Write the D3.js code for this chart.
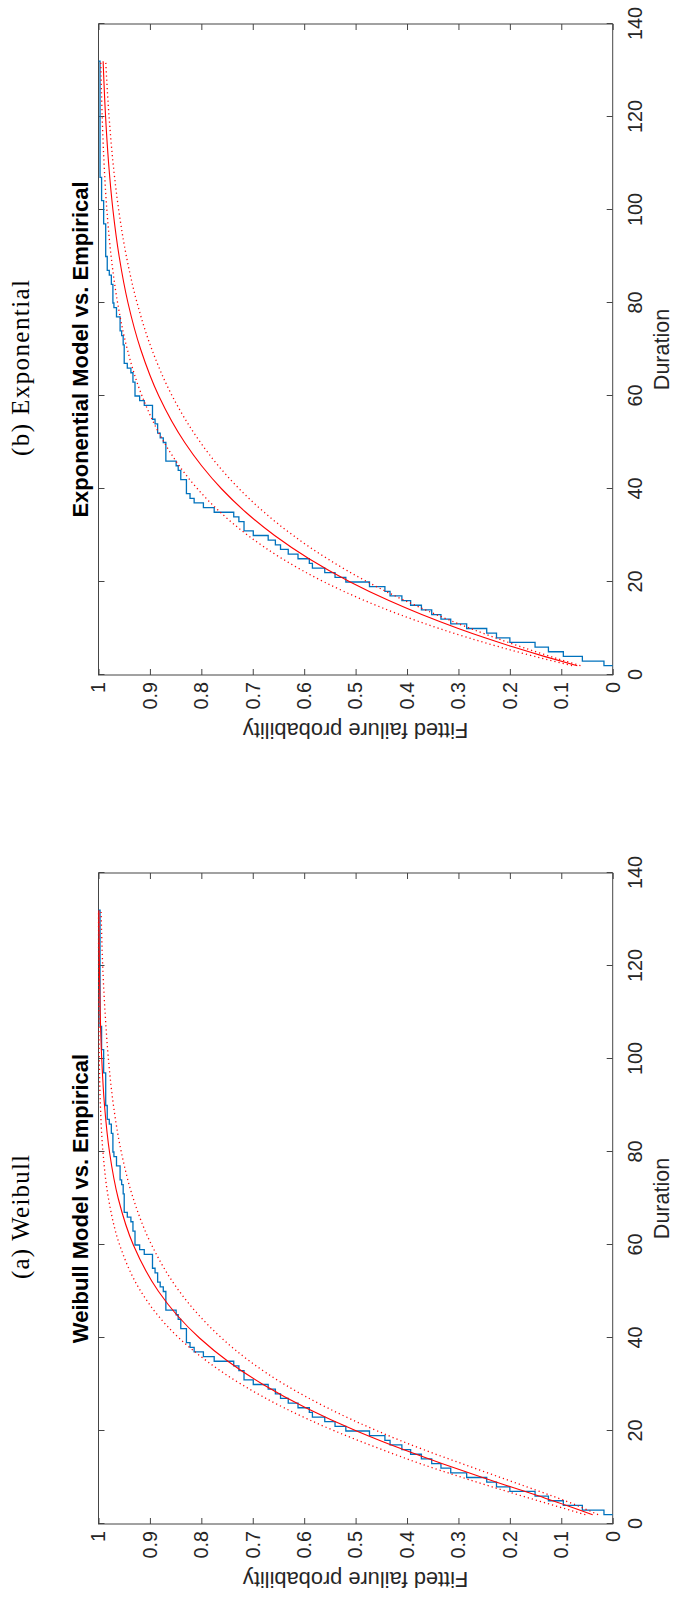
<!DOCTYPE html>
<html>
<head>
<meta charset="utf-8">
<script src="https://cdn.jsdelivr.net/npm/d3@7"></script>
<style>
html, body { margin: 0; padding: 0; background: #ffffff; }
svg { display: block; }
</style>
</head>
<body>
<svg id="chart" width="674" height="1597"></svg>
<script>
// ---------------- data ----------------
const durationTicks = [0, 20, 40, 60, 80, 100, 120, 140];
const durationTickLabels = ["0", "20", "40", "60", "80", "100", "120", "140"];
const probTicks = [0, 0.1, 0.2, 0.3, 0.4, 0.5, 0.6, 0.7, 0.8, 0.9, 1];
const probTickLabels = ["0", "0.1", "0.2", "0.3", "0.4", "0.5", "0.6", "0.7", "0.8", "0.9", "1"];

// empirical CDF (step function): duration where the step starts, probability after the step
const ecdfDuration = [2, 2, 3, 4, 5, 6, 7, 8, 9, 10, 11, 12, 13, 14, 15, 16, 17, 18, 19, 20,
  21, 22, 23, 24, 25, 26, 27, 28, 29, 30, 31, 33, 34, 35, 36, 37, 38, 39, 42, 44, 45, 46,
  50, 51, 52, 54, 55, 58, 59, 60, 63, 65, 66, 67, 71, 73, 74, 77, 79, 80, 84, 86, 87, 90,
  97, 102, 107, 132];
const ecdfProb = [0, 0.017, 0.059, 0.096, 0.125, 0.151, 0.200, 0.226, 0.245, 0.284, 0.315,
  0.334, 0.352, 0.372, 0.393, 0.410, 0.433, 0.443, 0.473, 0.519, 0.540, 0.560, 0.584, 0.590,
  0.612, 0.631, 0.646, 0.656, 0.670, 0.699, 0.717, 0.727, 0.737, 0.775, 0.796, 0.814, 0.822,
  0.829, 0.840, 0.845, 0.849, 0.869, 0.874, 0.880, 0.885, 0.890, 0.895, 0.911, 0.920, 0.929,
  0.933, 0.937, 0.944, 0.950, 0.952, 0.955, 0.958, 0.965, 0.970, 0.972, 0.975, 0.979, 0.983,
  0.986, 0.990, 0.994, 0.997, 1.000];

// fitted curves, read at these durations
const fitDuration = [2, 4, 6, 8, 10, 13, 16, 20, 25, 30, 35, 40, 45, 50, 60, 70, 80, 90, 100, 110, 120, 132];

const expFit   = [0.0689, 0.1331, 0.1929, 0.2485, 0.3003, 0.3714, 0.4353, 0.5105, 0.5906, 0.6575, 0.7135,
  0.7604, 0.7995, 0.8323, 0.8827, 0.9179, 0.9426, 0.9598, 0.9719, 0.9803, 0.9862, 0.9910];
const expUpper = [0.0790, 0.1518, 0.2188, 0.2805, 0.3373, 0.4143, 0.4823, 0.5609, 0.6426, 0.7090, 0.7631,
  0.8072, 0.8431, 0.8722, 0.9153, 0.9439, 0.9628, 0.9754, 0.9837, 0.9892, 0.9928, 0.9956];
const expLower = [0.0627, 0.1214, 0.1765, 0.2281, 0.2765, 0.3434, 0.4041, 0.4765, 0.5547, 0.6213, 0.6778,
  0.7260, 0.7669, 0.8017, 0.8566, 0.8962, 0.9249, 0.9457, 0.9607, 0.9716, 0.9794, 0.9860];

const wblFit   = [0.0389, 0.0894, 0.1435, 0.1985, 0.2531, 0.3324, 0.4071, 0.4981, 0.5970, 0.6800, 0.7483,
  0.8036, 0.8480, 0.8832, 0.9322, 0.9616, 0.9786, 0.9883, 0.9937, 0.9967, 0.9983, 0.9992];
const wblUpper = [0.0532, 0.1144, 0.1755, 0.2348, 0.2924, 0.3747, 0.4485, 0.5403, 0.6393, 0.7215, 0.7889,
  0.8434, 0.8855, 0.9175, 0.9588, 0.9806, 0.9913, 0.9963, 0.9985, 0.9994, 0.9998, 0.9999];
const wblLower = [0.0284, 0.0697, 0.1169, 0.1672, 0.2182, 0.2937, 0.3681, 0.4574, 0.5552, 0.6379, 0.7058,
  0.7606, 0.8056, 0.8425, 0.8967, 0.9324, 0.9557, 0.9709, 0.9807, 0.9872, 0.9918, 0.9950];

const panelCaptions = ["(b) Exponential", "(a) Weibull"];
const panelTitles = ["Exponential Model vs. Empirical", "Weibull Model vs. Empirical"];
const xLabel = "Duration";
const yLabel = "Fitted failure probability";

// ---------------- layout ----------------
const panels = [
  { caption: panelCaptions[0], title: panelTitles[0], fit: expFit, upper: expUpper, lower: expLower,
    left: 98.5, bottom: 675, captionLen: 176 },
  { caption: panelCaptions[1], title: panelTitles[1], fit: wblFit, upper: wblUpper, lower: wblLower,
    left: 98.5, bottom: 1524, captionLen: 124 }
];

const W = 651;     // length of the Duration axis (page vertical)
const H = 514.2;   // length of the probability axis (page horizontal)
const SANS = "'Liberation Sans', Arial, Helvetica, sans-serif";
const SERIF = "'Liberation Serif', 'Times New Roman', serif";
const AXIS_COLOR = "#454545";
const TEXT_COLOR = "#262626";
const BLUE = "#0072BD";
const RED = "#FF0000";

const svg = d3.select("#chart");
svg.append("rect").attr("width", 674).attr("height", 1597).attr("fill", "#ffffff");

panels.forEach(pn => {
  // The whole MATLAB figure is rotated 90 degrees counter-clockwise on the page.
  const g = svg.append("g")
    .attr("transform", `translate(${pn.left},${pn.bottom}) rotate(-90)`);

  const x = d3.scaleLinear().domain([0, 140]).range([0, W]);
  const y = d3.scaleLinear().domain([0, 1]).range([H, 0]);

  // box
  g.append("rect")
    .attr("x", 0).attr("y", 0).attr("width", W).attr("height", H)
    .attr("fill", "none").attr("stroke", AXIS_COLOR).attr("stroke-width", 1);

  // axes with inward ticks
  const styleAxis = sel => {
    sel.select(".domain").remove();
    sel.selectAll(".tick line").attr("stroke", AXIS_COLOR).attr("stroke-width", 1);
    sel.selectAll(".tick text").attr("fill", TEXT_COLOR);
    sel.attr("font-family", SANS).attr("font-size", 19.8);
  };

  g.append("g").attr("transform", `translate(0,${H})`)
    .call(d3.axisBottom(x).tickValues(durationTicks)
      .tickFormat((d, i) => durationTickLabels[i])
      .tickSizeInner(-6).tickSizeOuter(0).tickPadding(15.3))
    .call(styleAxis);

  g.append("g")
    .call(d3.axisTop(x).tickValues(durationTicks).tickFormat("")
      .tickSizeInner(-6).tickSizeOuter(0))
    .call(styleAxis);

  g.append("g")
    .call(d3.axisLeft(y).tickValues(probTicks)
      .tickFormat((d, i) => probTickLabels[i])
      .tickSizeInner(-6).tickSizeOuter(0).tickPadding(7))
    .call(styleAxis);

  g.append("g").attr("transform", `translate(${W},0)`)
    .call(d3.axisRight(y).tickValues(probTicks).tickFormat("")
      .tickSizeInner(-6).tickSizeOuter(0))
    .call(styleAxis);

  // empirical staircase
  const stairs = d3.line()
    .x(d => x(d[0])).y(d => y(d[1]))
    .curve(d3.curveStepAfter);
  const ecdfPts = ecdfDuration.map((d, i) => [d, ecdfProb[i]]);
  g.append("path").datum(ecdfPts)
    .attr("d", stairs)
    .attr("fill", "none").attr("stroke", BLUE).attr("stroke-width", 1.3);

  // fitted curve and confidence bounds
  const smooth = d3.line()
    .x(d => x(d[0])).y(d => y(d[1]))
    .curve(d3.curveMonotoneX);
  const toPts = arr => fitDuration.map((d, i) => [d, arr[i]]);

  [pn.lower, pn.upper].forEach(arr => {
    g.append("path").datum(toPts(arr))
      .attr("d", smooth)
      .attr("fill", "none").attr("stroke", RED).attr("stroke-width", 1.3)
      .attr("stroke-dasharray", "1.2,3");
  });
  g.append("path").datum(toPts(pn.fit))
    .attr("d", smooth)
    .attr("fill", "none").attr("stroke", RED).attr("stroke-width", 1.1);

  // title
  g.append("text")
    .attr("x", W / 2).attr("y", -10.5)
    .attr("text-anchor", "middle")
    .attr("font-family", SANS).attr("font-size", 22).attr("font-weight", "bold")
    .attr("fill", "#000000")
    .text(pn.title);

  // x label
  g.append("text")
    .attr("x", W / 2).attr("y", H + 56)
    .attr("text-anchor", "middle")
    .attr("font-family", SANS).attr("font-size", 21.5)
    .attr("fill", TEXT_COLOR)
    .text(xLabel);

  // y label
  g.append("text")
    .attr("transform", `translate(-48,${H / 2}) rotate(-90)`)
    .attr("text-anchor", "middle")
    .attr("font-family", SANS).attr("font-size", 21.8)
    .attr("fill", TEXT_COLOR)
    .text(yLabel);

  // LaTeX sub-caption
  g.append("text")
    .attr("x", 307).attr("y", -70)
    .attr("text-anchor", "middle")
    .attr("font-family", SERIF).attr("font-size", 25)
    .attr("fill", "#000000")
    .attr("textLength", pn.captionLen).attr("lengthAdjust", "spacing")
    .text(pn.caption);
});
</script>
</body>
</html>
